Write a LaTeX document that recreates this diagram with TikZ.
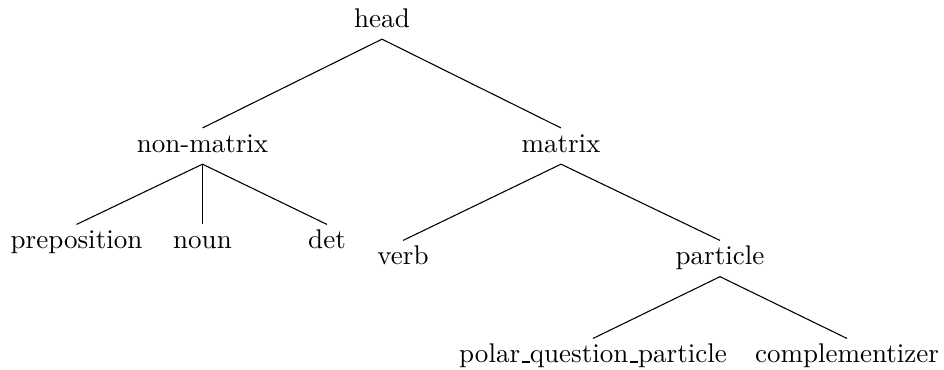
\documentclass[tikz,border=0pt]{standalone}
\usepackage{tikz}

\newcommand{\usc}{\leavevmode\kern.06em\vbox{\hrule width.3em}}

\begin{document}
\begin{tikzpicture}[x=0.37pt,y=-0.37pt,
		cat/.style={anchor=base,inner sep=0pt,text height=8.7pt,text depth=4.3pt}]
		\useasboundingbox (0,0) rectangle (944,369);

		\node[cat] (head) at (382,27) {head};
		\node[cat] (nonmatrix) at (202.5,152) {non-matrix};
		\node[cat] (matrix) at (561,152) {matrix};

		\node[cat] (preposition) at (76.5,248.5) {preposition};
		\node[cat] (noun) at (202.5,248.5) {noun};
		\node[cat] (det) at (327,248.5) {det};

		\node[cat] (verb) at (403,264.5) {verb};
		\node[cat] (particle) at (720,264.5) {particle};

		\node[cat] (polar) at (593,362.5) {polar\usc question\usc particle};
		\node[cat] (compl) at (847,362.5) {complementizer};

		\draw (head.south) -- (nonmatrix.north);
		\draw (head.south) -- (matrix.north);
		\draw (nonmatrix.south) -- (preposition.north);
		\draw (nonmatrix.south) -- (noun.north);
		\draw (nonmatrix.south) -- (det.north);
		\draw (matrix.south) -- (verb.north);
		\draw (matrix.south) -- (particle.north);
		\draw (particle.south) -- (polar.north);
		\draw (particle.south) -- (compl.north);

	\end{tikzpicture}
\end{document}
